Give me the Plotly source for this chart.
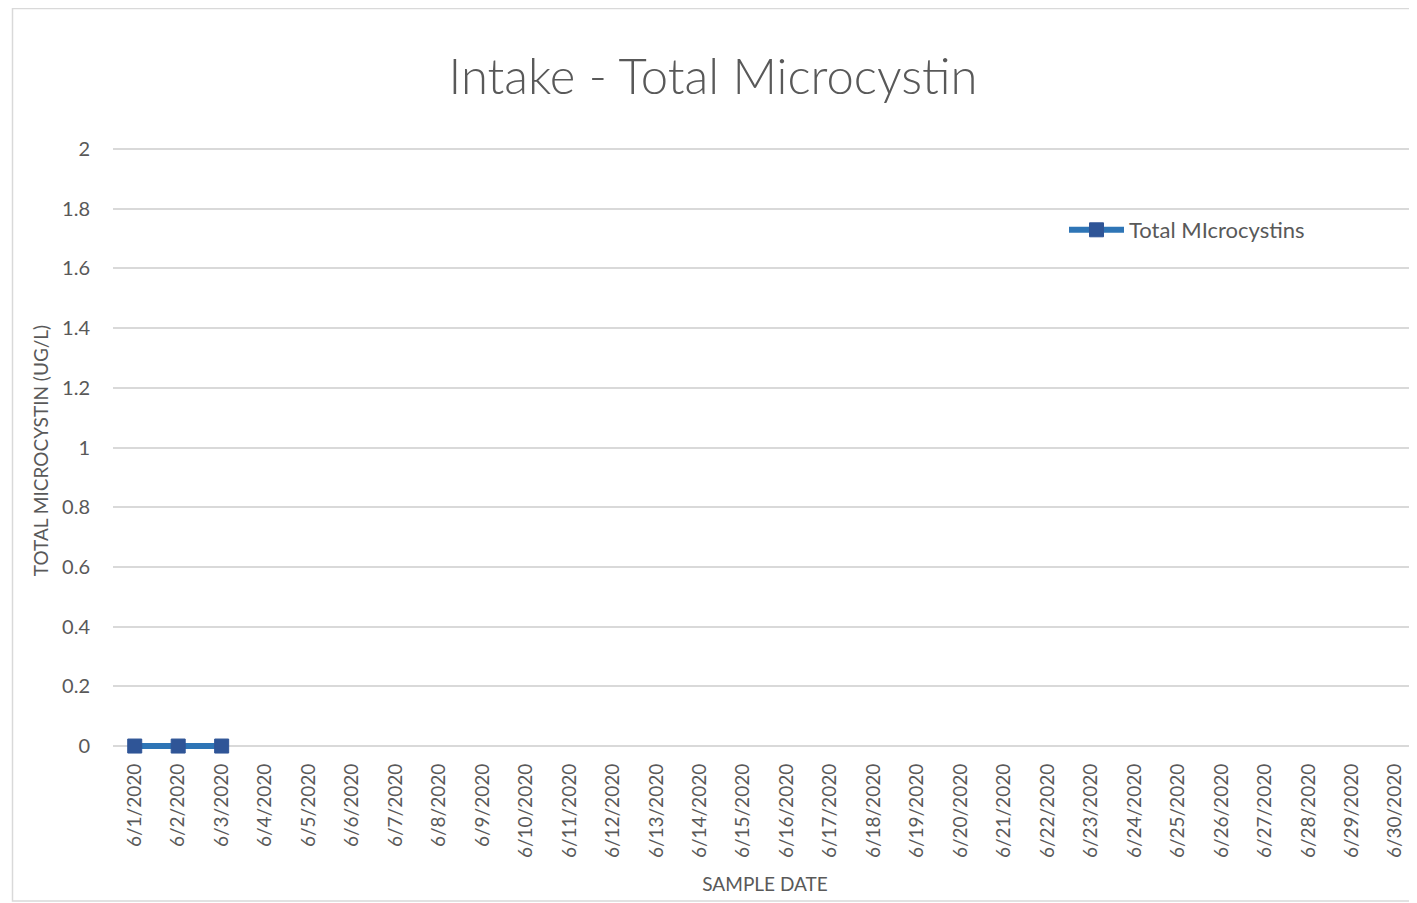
import plotly.graph_objects as go

dates = [f"6/{d}/2020" for d in range(1, 31)]
sample_dates = ["6/1/2020", "6/2/2020", "6/3/2020"]
microcystin = [0, 0, 0]

y_ticks = [0, 0.2, 0.4, 0.6, 0.8, 1, 1.2, 1.4, 1.6, 1.8, 2]
y_tick_labels = ["0", "0.2", "0.4", "0.6", "0.8", "1", "1.2", "1.4", "1.6", "1.8", "2"]

FONT = "Lato"
TXT = "#595959"
GRID = "#D9D9D9"

W, H = 1409, 895
L, T, B = 105, 138, 148
PW = W - L
PH = H - T - B

fig = go.Figure()
fig.add_trace(go.Scatter(
    x=sample_dates, y=microcystin, mode="lines+markers",
    name="Total MIcrocystins",
    line=dict(color="#2E75B6", width=6),
    marker=dict(symbol="square", size=14, color="#2F5597",
                line=dict(color="#2F5597", width=1)),
    cliponaxis=False,
))

fig.update_layout(
    width=W, height=H,
    margin=dict(l=L, r=0, t=T, b=B),
    paper_bgcolor="white", plot_bgcolor="white",
    font=dict(family=FONT, color=TXT),
    title=dict(text="Intake - Total Microcystin", x=705 / W, xref="container", xanchor="center",
               y=1 - 69 / H, yanchor="middle",
               font=dict(family=FONT, size=49, color=TXT, weight=300)),
    showlegend=True,
    legend=dict(x=(1056 - L) / PW, y=(T + PH - 222) / PH, xanchor="left", yanchor="middle",
                bgcolor="rgba(0,0,0,0)", font=dict(family=FONT, size=22, color=TXT),
                itemwidth=55),
    xaxis=dict(
        type="category", categoryorder="array", categoryarray=dates,
        tickmode="array", tickvals=dates, ticktext=dates,
        range=[-0.5, 29.5], tickangle=-90,
        showgrid=False, showline=False,
        ticks="", ticklabelstandoff=4,
        tickfont=dict(family=FONT, size=19, color=TXT),
        title=dict(text="SAMPLE DATE", standoff=20, font=dict(family=FONT, size=19, color=TXT)),
        zeroline=False,
    ),
    yaxis=dict(
        range=[-0.03, 2.01], tickmode="array", tickvals=y_ticks, ticktext=y_tick_labels,
        showgrid=True, gridcolor=GRID, gridwidth=1.5,
        showline=False, zeroline=False, ticks="", ticklabelstandoff=22,
        tickfont=dict(family=FONT, size=20, color=TXT),
        title=dict(text="TOTAL MICROCYSTIN (UG/L)", standoff=8,
                   font=dict(family=FONT, size=19, color=TXT)),
    ),
)

fig.add_shape(type="rect", xref="paper", yref="paper",
              x0=(4.5 - L) / PW, x1=1.02, y0=(T + PH - 893) / PH, y1=(T + PH - 0.5) / PH,
              line=dict(color=GRID, width=1.5), fillcolor="rgba(0,0,0,0)", layer="below")

fig.write_html("out.html")
